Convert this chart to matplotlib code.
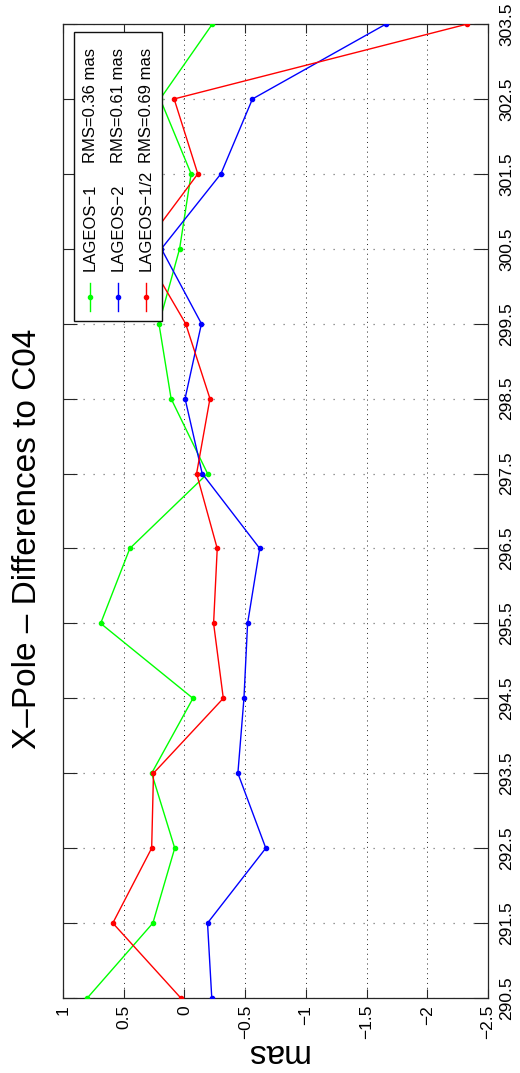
import matplotlib.pyplot as plt
from matplotlib.patches import Rectangle

# Data (epoch vs. difference in mas)
epochs = [290.5, 291.5, 292.5, 293.5, 294.5, 295.5, 296.5,
          297.5, 298.5, 299.5, 300.5, 301.5, 302.5, 303.5]
lageos1 = [0.80, 0.26, 0.08, 0.27, -0.07, 0.69, 0.45,
           -0.19, 0.11, 0.21, 0.04, -0.055, 0.20, -0.23]
lageos2 = [-0.225, -0.19, -0.67, -0.44, -0.49, -0.52, -0.62,
           -0.146, -0.005, -0.14, 0.19, -0.30, -0.56, -1.66]
lageos12 = [0.03, 0.59, 0.27, 0.255, -0.32, -0.24, -0.27,
            -0.10, -0.21, -0.01, 0.35, -0.11, 0.085, -2.33]

series_names = ['LAGEOS\u22121', 'LAGEOS\u22122', 'LAGEOS\u22121/2']
rms_labels = ['RMS=0.36 mas', 'RMS=0.61 mas', 'RMS=0.69 mas']
colors = ['#00ff00', '#0000ff', '#ff0000']

mas_ticks = [1, 0.5, 0, -0.5, -1, -1.5, -2, -2.5]
mas_labels = ['1', '0.5', '0', '\u22120.5', '\u22121', '\u22121.5', '\u22122', '\u22122.5']

title = 'X\u2013Pole \u2013 Differences to C04'
ylabel = 'mas'

plt.rcParams['font.family'] = ['Liberation Sans', 'DejaVu Sans']

# The whole chart is drawn turned by 90 degrees (like the reference)
fig = plt.figure(figsize=(5.2, 10.73), dpi=100)
ax = fig.add_axes([0.1212, 0.0699, 0.8173, 0.9077])

for vals, c in zip([lageos1, lageos2, lageos12], colors):
    ax.plot(vals, epochs, color=c, lw=1.0, marker='.', ms=6, zorder=3)

ax.set_xlim(1, -2.5)
ax.set_ylim(290.5, 303.5)

ax.set_xticks(mas_ticks)
ax.set_xticklabels(mas_labels, rotation=90, ha='center', va='top')
ax.set_yticks(epochs)
ax.set_yticklabels([f'{e:.1f}' for e in epochs], rotation=90, va='center')

ax.yaxis.tick_right()
ax.tick_params(axis='x', direction='in', length=6.5, width=0.8, top=True,
               bottom=True, labelsize=12.5, pad=5, color='#262626')
ax.tick_params(axis='y', direction='in', length=10, width=0.8, left=True,
               right=True, labelsize=12.5, pad=8, color='#262626')

# dotted grid
ax.grid(True, axis='x', color='#222222', lw=0.7, linestyle=(0, (1, 4)))
ax.grid(True, axis='y', color='#777777', lw=0.9, linestyle=(0, (1, 7)))
ax.set_axisbelow(True)

for s in ax.spines.values():
    s.set_color('#262626')
    s.set_linewidth(0.9)

# title on the left, label at the bottom (upside down)
fig.text(28 / 520, 1 - 539 / 1073, title, rotation=90, ha='center', va='center', fontsize=24)
fig.text(276 / 520, 1 - 1052 / 1073, ylabel, rotation=180, ha='center', va='center', fontsize=24)

# legend, drawn by hand because it is rotated
ax.add_patch(Rectangle((0.0259, 0.695), 0.2071, 0.2968, transform=ax.transAxes,
                       facecolor='white', edgecolor='#111111', lw=1.0, zorder=5))
leg_x = [0.0642, 0.1294, 0.1960]
for lx, name, rms, c in zip(leg_x, series_names, rms_labels, colors):
    ax.plot([lx, lx], [0.7057, 0.7344], transform=ax.transAxes, color=c, lw=1.0, zorder=6)
    ax.plot([lx], [0.7200], transform=ax.transAxes, color=c, marker='.', ms=6, zorder=6)
    ax.text(lx, 0.7464, name, transform=ax.transAxes, rotation=90, ha='center',
            va='bottom', fontsize=12, zorder=7)
    ax.text(lx, 0.8573, rms, transform=ax.transAxes, rotation=90, ha='center',
            va='bottom', fontsize=12, zorder=7)

plt.savefig('out.png', dpi=100)
plt.close()
